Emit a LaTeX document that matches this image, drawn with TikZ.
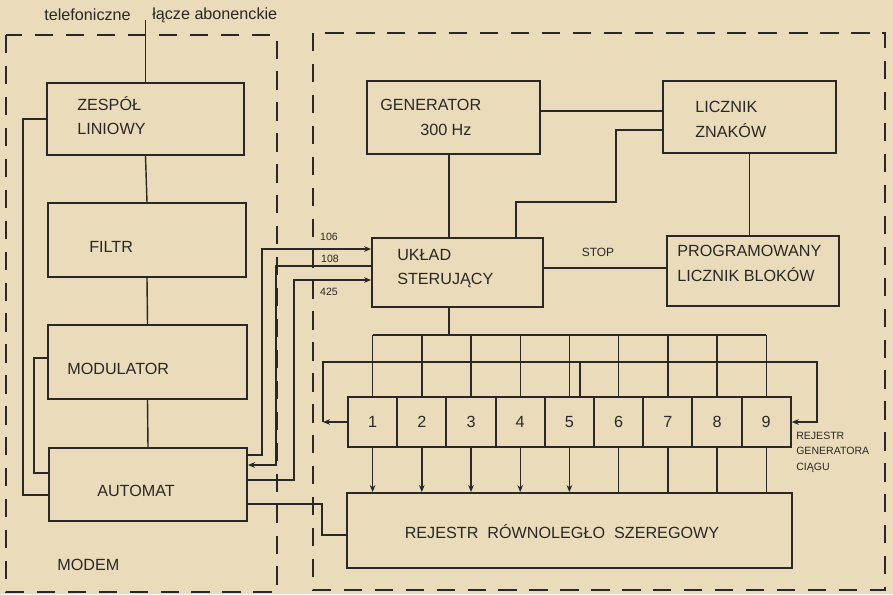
\documentclass[tikz,border=0pt]{standalone}
\usepackage{fontspec}
\setmainfont{Liberation Sans}
\usetikzlibrary{arrows.meta}
\definecolor{papier}{RGB}{234,220,186}
\definecolor{tusz}{RGB}{42,40,38}
\tikzset{
  blok/.style={draw=tusz, line width=1.3pt, inner sep=0pt},
  wh/.style 2 args={minimum width=#1*0.025cm, minimum height=#2*0.025cm},
  napis/.style={anchor=west, inner sep=0pt, text=tusz, align=left,
    font=\fontsize{11.5}{17.5}\selectfont},
  maly/.style={inner sep=0pt, text=tusz, font=\fontsize{7.5}{11}\selectfont},
  ramka/.style={draw=tusz, line width=1.2pt, dash pattern=on 13pt off 9pt},
  pol/.style={draw=tusz, line width=1pt},
  >={Stealth[length=5pt,width=4pt]}
}
\begin{document}
\begin{tikzpicture}[x=0.025cm,y=-0.025cm]
  \fill[papier] (0,0) rectangle (893,594);
  \useasboundingbox (0,0) rectangle (893,594);

  % obudowy
  \draw[ramka] (6,35) rectangle (277,592);
  \draw[ramka] (313,33) rectangle (885,590);

  % modem
  \node[blok, wh={197}{72}] (zespol) at (145.5,119) {};
  \node[blok, wh={198}{74}] (filtr) at (147,240) {};
  \node[blok, wh={199}{74}] (modulator) at (147.5,362) {};
  \node[blok, wh={198}{73}] (automat) at (148,484.5) {};
  \node[napis] (zespolT) at (77,115.5) {ZESPÓŁ\\LINIOWY};
  \node[napis] (filtrT) at (89,247) {FILTR};
  \node[napis] (modulatorT) at (67,369) {MODULATOR};
  \node[napis] (automatT) at (97,491) {AUTOMAT};
  \node[napis] (modem) at (57,565) {MODEM};

  % sterowanie
  \node[blok, wh={173}{73}] (generator) at (453.5,117.5) {};
  \node[blok, wh={173}{72}] (licznik) at (749.5,117) {};
  \node[blok, wh={171}{69}] (uklad) at (457.5,272.5) {};
  \node[blok, wh={172}{70}] (prog) at (753,271) {};
  \node[napis] (generatorT) at (380,105) {GENERATOR};
  \node[napis] (hz) at (420,130) {300 Hz};
  \node[napis] (licznikT) at (695,119.5) {LICZNIK\\ZNAKÓW};
  \node[napis] (ukladT) at (397,268.5) {UKŁAD\\STERUJĄCY};
  \node[napis] (progT) at (677,263.5) {PROGRAMOWANY\\LICZNIK BLOKÓW};

  % rejestry
  \foreach \i in {1,...,9}
    \node[blok, wh={49.2}{50}, napis, anchor=center] (r\i) at ({348+49.2*(\i-0.5)},422) {\i};
  \node[blok, wh={445}{75}] (rown) at (569.5,530.5) {};
  \node[napis, anchor=center] (rownT) at (562,532) {REJESTR\ \ RÓWNOLEGŁO\ \ SZEREGOWY};
  \node[maly, anchor=west, align=left, font=\fontsize{7.5}{11}\selectfont] (rgc) at (796,452) {REJESTR\\GENERATORA\\CIĄGU};

  % opisy
  \node[napis, anchor=east] (tel) at (131,15) {telefoniczne};
  \node[napis] (lacze) at (152,15) {łącze abonenckie};
  \node[maly] (l106) at (329,237) {106};
  \node[maly] (l108) at (330,259) {108};
  \node[maly] (l425) at (329,292) {425};
  \node[maly, font=\fontsize{8.5}{10}\selectfont] (stop) at (598,252) {STOP};

  % polaczenia modemu
  \coordinate (wej) at (zespol.north |- 0,20);
  \draw[pol] (wej) -- (zespol.north);
  \draw[pol] (zespol.south) -- (filtr.north);
  \draw[pol] (filtr.south) -- (modulator.north);
  \draw[pol] (modulator.south) -- (automat.north);
  \draw[pol] (zespol.west) -- (23,119) |- (automat.west |- 0,495);
  \draw[pol] (modulator.west |- 0,358) -| (34,473) -- (automat.west |- 0,473);

  % modem - uklad sterujacy
  \draw[pol,->] (automat.east |- 0,455) -| (262,249) -- (uklad.west |- 0,249);
  \draw[pol,->] (uklad.west |- 0,266) -| (276,465) -- (automat.east |- 0,465);
  \draw[pol,->] (automat.east |- 0,480) -| (294,280) -- (uklad.west |- 0,280);
  \draw[pol] (automat.east |- 0,504) -| (322,535) -- (rown.west |- 0,535);

  % sterowanie
  \draw[pol] (generator.east |- 0,111) -- (licznik.west |- 0,111);
  \draw[pol] (licznik.west |- 0,130) -| (616,202) -| (uklad.north -| 516,0);
  \draw[pol] (generator.south -| 449,0) -- (uklad.north -| 449,0);
  \draw[pol] (licznik.south) -- (prog.north -| licznik.south);
  \draw[pol] (uklad.east |- 0,268) -- (prog.west |- 0,268);

  % szyny do rejestru
  \draw[pol] (uklad.south -| 449,0) -- (449,335);
  \draw[pol] (r1.north |- 0,335) -- (r9.north |- 0,335);
  \foreach \i in {1,...,9}
    \draw[pol] (r\i.north |- 0,335) -- (r\i.north);
  \draw[pol,->] (r1.west) -- (323,422);
  \draw[pol,->] (323,422) |- (817,362) |- (r9.east);
  \draw[pol] (r5.north -| 580,0) -- (580,362);
  \foreach \i/\g in {1/->,2/->,3/->,4/->,5/->,6/-,7/-,8/-,9/-}
    \draw[pol,\g] (r\i.south) -- (r\i.south |- rown.north);
\end{tikzpicture}
\end{document}
